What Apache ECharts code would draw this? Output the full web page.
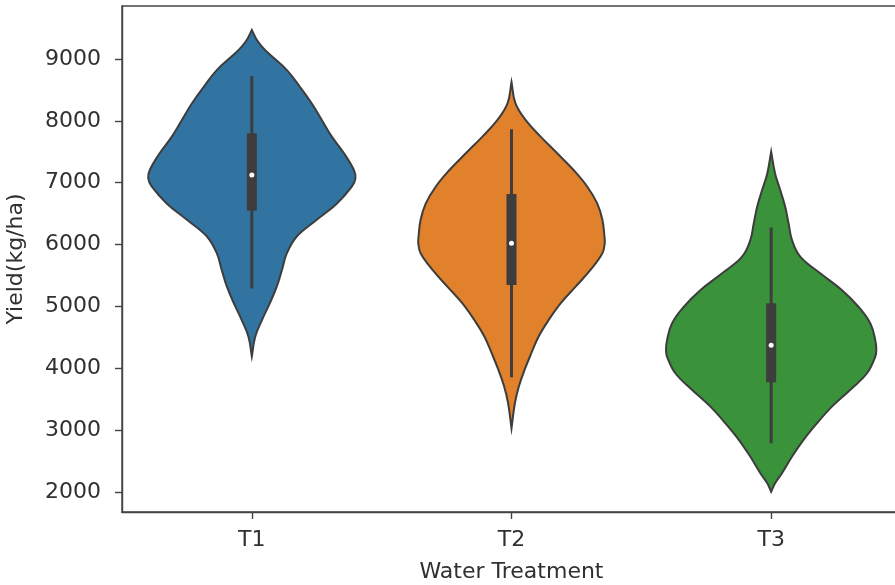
<!DOCTYPE html>
<html>
<head>
<meta charset="utf-8">
<script src="https://cdn.jsdelivr.net/npm/echarts@6/dist/echarts.min.js"></script>
<style>
  html, body { margin: 0; padding: 0; background: #ffffff; }
  #chart { width: 895px; height: 585px; }
</style>
</head>
<body>
<div id="chart"></div>
<script>
// Treatments and y-axis ticks
const categories = ['T1', 'T2', 'T3'];
const yTicks = [2000, 3000, 4000, 5000, 6000, 7000, 8000, 9000];

// Kernel-density outlines: yield level (kg/ha) and half-width as a fraction of the category slot
const t1Yield = [9470, 9310, 9200, 9100, 8820, 8550, 8280, 8010, 7745, 7475, 7205, 7070, 6935, 6665, 6400, 6130, 5860, 5590, 5320, 5050, 4780, 4510, 4190];
const t1Width = [0, 0.019, 0.039, 0.062, 0.135, 0.185, 0.231, 0.270, 0.308, 0.355, 0.393, 0.399, 0.385, 0.328, 0.250, 0.173, 0.135, 0.116, 0.096, 0.069, 0.039, 0.013, 0];

const t2Yield = [8630, 8285, 8015, 7745, 7475, 7205, 6935, 6665, 6400, 6130, 6020, 5860, 5590, 5320, 5050, 4780, 4510, 4240, 3970, 3700, 3435, 3030];
const t2Width = [0, 0.015, 0.054, 0.112, 0.176, 0.239, 0.292, 0.330, 0.350, 0.358, 0.359, 0.350, 0.304, 0.247, 0.189, 0.143, 0.104, 0.076, 0.050, 0.028, 0.013, 0];

const t3Yield = [7500, 7150, 6880, 6610, 6345, 6075, 5805, 5535, 5265, 4995, 4725, 4455, 4295, 4190, 3920, 3650, 3380, 3110, 2840, 2570, 2300, 2140, 2005];
const t3Width = [0, 0.015, 0.035, 0.054, 0.067, 0.080, 0.112, 0.189, 0.272, 0.336, 0.382, 0.401, 0.405, 0.401, 0.369, 0.304, 0.234, 0.176, 0.124, 0.080, 0.041, 0.015, 0];

// Inner box: lower whisker, Q1, median, Q3, upper whisker
const t1Box = [5290, 6548, 7125, 7799, 8725];
const t2Box = [3855, 5347, 6020, 6818, 7863];
const t3Box = [2787, 3774, 4371, 5050, 6276];

const fills = ['#3274A1', '#E1812C', '#3A923A'];
const inkColor = '#3d3d3d';
const axisColor = '#444444';
const textColor = '#303030';
const fontFamily = 'DejaVu Sans';

function violinRenderer(yields, widths, box, fill) {
  return function (params, api) {
    const idx = api.value(0);
    const band = api.size([1, 0])[0];
    const pts = [];
    // right side top to bottom, then left side bottom to top (tips kept on both sides so they stay pointed)
    for (let i = 0; i < yields.length; i++) {
      const c = api.coord([idx, yields[i]]);
      pts.push([c[0] + widths[i] * band, c[1]]);
    }
    for (let i = yields.length - 1; i >= 0; i--) {
      const c = api.coord([idx, yields[i]]);
      pts.push([c[0] - widths[i] * band, c[1]]);
    }
    const lo = api.coord([idx, box[0]]);
    const q1 = api.coord([idx, box[1]]);
    const md = api.coord([idx, box[2]]);
    const q3 = api.coord([idx, box[3]]);
    const hi = api.coord([idx, box[4]]);
    return {
      type: 'group',
      children: [
        { type: 'polygon', shape: { points: pts, smooth: 0.4 },
          style: { fill: fill, stroke: inkColor, lineWidth: 2 } },
        { type: 'line', shape: { x1: lo[0], y1: lo[1], x2: hi[0], y2: hi[1] },
          style: { stroke: inkColor, lineWidth: 3 } },
        { type: 'rect', shape: { x: q3[0] - 5, y: q3[1], width: 10, height: q1[1] - q3[1] },
          style: { fill: inkColor } },
        { type: 'circle', shape: { cx: md[0], cy: md[1], r: 2.5 },
          style: { fill: '#ffffff' } }
      ]
    };
  };
}

const outlines = [
  [t1Yield, t1Width, t1Box],
  [t2Yield, t2Width, t2Box],
  [t3Yield, t3Width, t3Box]
];

const chart = echarts.init(document.getElementById('chart'), null, { renderer: 'canvas' });
chart.setOption({
  animation: false,
  backgroundColor: '#ffffff',
  grid: {
    left: 122, top: 6, right: -6, bottom: 73,
    outerBoundsMode: 'none',
    containLabel: false,
    show: true, borderColor: axisColor, borderWidth: 1.4, backgroundColor: 'transparent'
  },
  xAxis: {
    type: 'category',
    data: categories,
    boundaryGap: true,
    name: 'Water Treatment',
    nameLocation: 'middle',
    nameGap: 49,
    nameTextStyle: { color: textColor, fontFamily: fontFamily, fontSize: 22 },
    axisLine: { show: true, lineStyle: { color: axisColor, width: 1.4 } },
    axisTick: { show: true, alignWithLabel: true, length: 7, lineStyle: { color: axisColor, width: 1.4 } },
    axisLabel: { color: textColor, fontFamily: fontFamily, fontSize: 22, margin: 17 },
    splitLine: { show: false }
  },
  yAxis: {
    type: 'value',
    min: 1677,
    max: 9856,
    name: 'Yield(kg/ha)',
    nameLocation: 'middle',
    nameGap: 95,
    nameTextStyle: { color: textColor, fontFamily: fontFamily, fontSize: 22 },
    axisLine: { show: true, lineStyle: { color: axisColor, width: 1.4 } },
    axisTick: { show: true, length: 7, customValues: yTicks, lineStyle: { color: axisColor, width: 1.4 } },
    axisLabel: {
      color: textColor, fontFamily: fontFamily, fontSize: 22, margin: 21,
      customValues: yTicks,
      formatter: function (v) { return String(v); }
    },
    splitLine: { show: false }
  },
  series: outlines.map(function (o, i) {
    return {
      type: 'custom',
      name: categories[i],
      renderItem: violinRenderer(o[0], o[1], o[2], fills[i]),
      data: [[i]],
      encode: { x: 0 },
      clip: false,
      z: 2
    };
  })
});
</script>
</body>
</html>
